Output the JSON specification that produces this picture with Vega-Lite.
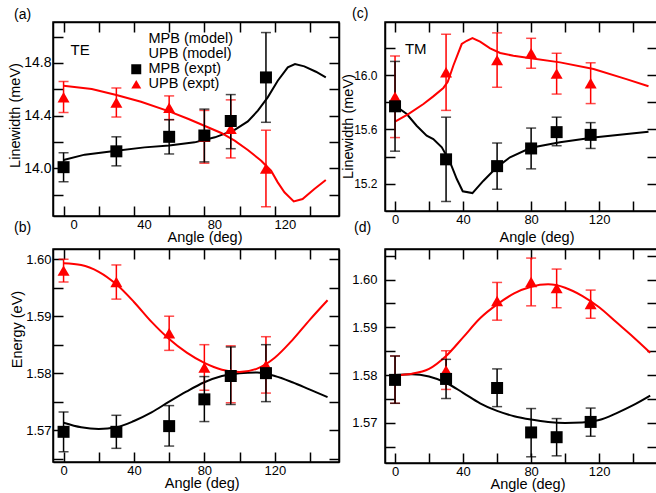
{
  "$schema": "https://vega.github.io/schema/vega-lite/v6.json",
  "padding": {"left": 6, "top": 6, "right": 0, "bottom": 0},
  "columns": 2,
  "spacing": {"row": 33, "column": 46},
  "bounds": "flush",
  "resolve": {"scale": {"x": "independent", "y": "independent", "color": "independent", "shape": "independent"}},
  "datasets": {
    "a_model": [
      {"angle": 0, "series": "MPB (model)", "value": 14.064},
      {"angle": 12, "series": "MPB (model)", "value": 14.105},
      {"angle": 30, "series": "MPB (model)", "value": 14.135},
      {"angle": 46, "series": "MPB (model)", "value": 14.16},
      {"angle": 60, "series": "MPB (model)", "value": 14.175},
      {"angle": 74.5, "series": "MPB (model)", "value": 14.198},
      {"angle": 86, "series": "MPB (model)", "value": 14.236},
      {"angle": 97, "series": "MPB (model)", "value": 14.291},
      {"angle": 104.7, "series": "MPB (model)", "value": 14.357},
      {"angle": 110.4, "series": "MPB (model)", "value": 14.438},
      {"angle": 116, "series": "MPB (model)", "value": 14.539},
      {"angle": 121.7, "series": "MPB (model)", "value": 14.665},
      {"angle": 127.4, "series": "MPB (model)", "value": 14.766},
      {"angle": 131.5, "series": "MPB (model)", "value": 14.791},
      {"angle": 136.8, "series": "MPB (model)", "value": 14.774},
      {"angle": 143.4, "series": "MPB (model)", "value": 14.733},
      {"angle": 149, "series": "MPB (model)", "value": 14.69},
      {"angle": 0, "series": "UPB (model)", "value": 14.627},
      {"angle": 16, "series": "UPB (model)", "value": 14.602},
      {"angle": 30, "series": "UPB (model)", "value": 14.557},
      {"angle": 44, "series": "UPB (model)", "value": 14.506},
      {"angle": 60, "series": "UPB (model)", "value": 14.433},
      {"angle": 71, "series": "UPB (model)", "value": 14.375},
      {"angle": 80, "series": "UPB (model)", "value": 14.324},
      {"angle": 89.6, "series": "UPB (model)", "value": 14.269},
      {"angle": 97.2, "series": "UPB (model)", "value": 14.211},
      {"angle": 104.7, "series": "UPB (model)", "value": 14.14},
      {"angle": 112.3, "series": "UPB (model)", "value": 14.059},
      {"angle": 117.9, "series": "UPB (model)", "value": 13.983},
      {"angle": 121.7, "series": "UPB (model)", "value": 13.895},
      {"angle": 125.5, "series": "UPB (model)", "value": 13.82},
      {"angle": 130.8, "series": "UPB (model)", "value": 13.751},
      {"angle": 135.8, "series": "UPB (model)", "value": 13.769},
      {"angle": 142.5, "series": "UPB (model)", "value": 13.844},
      {"angle": 149, "series": "UPB (model)", "value": 13.913}
    ],
    "a_expt": [
      {"angle": 0, "series": "UPB (expt)", "value": 14.54, "lo": 14.425, "hi": 14.66},
      {"angle": 30, "series": "UPB (expt)", "value": 14.5, "lo": 14.39, "hi": 14.61},
      {"angle": 60, "series": "UPB (expt)", "value": 14.46, "lo": 14.37, "hi": 14.55},
      {"angle": 80, "series": "UPB (expt)", "value": 14.24, "lo": 14.04, "hi": 14.44},
      {"angle": 95, "series": "UPB (expt)", "value": 14.3, "lo": 14.08, "hi": 14.52},
      {"angle": 115, "series": "UPB (expt)", "value": 14.0, "lo": 13.71, "hi": 14.29},
      {"angle": 0, "series": "MPB (expt)", "value": 14.01, "lo": 13.9, "hi": 14.12},
      {"angle": 30, "series": "MPB (expt)", "value": 14.13, "lo": 14.02, "hi": 14.24},
      {"angle": 60, "series": "MPB (expt)", "value": 14.24, "lo": 14.11, "hi": 14.37},
      {"angle": 80, "series": "MPB (expt)", "value": 14.25, "lo": 14.05, "hi": 14.45},
      {"angle": 95, "series": "MPB (expt)", "value": 14.36, "lo": 14.15, "hi": 14.56},
      {"angle": 115, "series": "MPB (expt)", "value": 14.69, "lo": 14.35, "hi": 15.03}
    ],
    "c_model": [
      {"angle": 0, "series": "MPB (model)", "value": 15.775},
      {"angle": 6.9, "series": "MPB (model)", "value": 15.713},
      {"angle": 12.7, "series": "MPB (model)", "value": 15.627},
      {"angle": 18.6, "series": "MPB (model)", "value": 15.554},
      {"angle": 22.5, "series": "MPB (model)", "value": 15.529},
      {"angle": 27.5, "series": "MPB (model)", "value": 15.468},
      {"angle": 32.4, "series": "MPB (model)", "value": 15.358},
      {"angle": 36.3, "series": "MPB (model)", "value": 15.235},
      {"angle": 39.8, "series": "MPB (model)", "value": 15.145},
      {"angle": 45.5, "series": "MPB (model)", "value": 15.132},
      {"angle": 52, "series": "MPB (model)", "value": 15.223},
      {"angle": 59.8, "series": "MPB (model)", "value": 15.321},
      {"angle": 67.6, "series": "MPB (model)", "value": 15.395},
      {"angle": 79.8, "series": "MPB (model)", "value": 15.465},
      {"angle": 97, "series": "MPB (model)", "value": 15.505},
      {"angle": 116.7, "series": "MPB (model)", "value": 15.54},
      {"angle": 136.3, "series": "MPB (model)", "value": 15.566},
      {"angle": 149, "series": "MPB (model)", "value": 15.583},
      {"angle": 0, "series": "UPB (model)", "value": 15.657},
      {"angle": 7.8, "series": "UPB (model)", "value": 15.713},
      {"angle": 16.7, "series": "UPB (model)", "value": 15.787},
      {"angle": 22.5, "series": "UPB (model)", "value": 15.843},
      {"angle": 28.4, "series": "UPB (model)", "value": 15.905},
      {"angle": 31, "series": "UPB (model)", "value": 15.95},
      {"angle": 34.3, "series": "UPB (model)", "value": 16.07},
      {"angle": 39.2, "series": "UPB (model)", "value": 16.228},
      {"angle": 42.2, "series": "UPB (model)", "value": 16.252},
      {"angle": 45.5, "series": "UPB (model)", "value": 16.272},
      {"angle": 50, "series": "UPB (model)", "value": 16.245},
      {"angle": 55.9, "series": "UPB (model)", "value": 16.196},
      {"angle": 61.8, "series": "UPB (model)", "value": 16.162},
      {"angle": 69.6, "series": "UPB (model)", "value": 16.142},
      {"angle": 79.8, "series": "UPB (model)", "value": 16.123},
      {"angle": 97, "series": "UPB (model)", "value": 16.093},
      {"angle": 116.7, "series": "UPB (model)", "value": 16.044},
      {"angle": 136, "series": "UPB (model)", "value": 15.97},
      {"angle": 149, "series": "UPB (model)", "value": 15.917}
    ],
    "c_expt": [
      {"angle": 0, "series": "UPB (expt)", "value": 15.84, "lo": 15.54, "hi": 16.14},
      {"angle": 30, "series": "UPB (expt)", "value": 16.02, "lo": 15.74, "hi": 16.3},
      {"angle": 60, "series": "UPB (expt)", "value": 16.11, "lo": 15.91, "hi": 16.31},
      {"angle": 80, "series": "UPB (expt)", "value": 16.16, "lo": 16.05, "hi": 16.27},
      {"angle": 95, "series": "UPB (expt)", "value": 16.01, "lo": 15.86, "hi": 16.16},
      {"angle": 115, "series": "UPB (expt)", "value": 15.94, "lo": 15.79, "hi": 16.09},
      {"angle": 0, "series": "MPB (expt)", "value": 15.77, "lo": 15.44, "hi": 16.1},
      {"angle": 30, "series": "MPB (expt)", "value": 15.38, "lo": 15.07, "hi": 15.69},
      {"angle": 60, "series": "MPB (expt)", "value": 15.33, "lo": 15.16, "hi": 15.5},
      {"angle": 80, "series": "MPB (expt)", "value": 15.46, "lo": 15.31, "hi": 15.61},
      {"angle": 95, "series": "MPB (expt)", "value": 15.58, "lo": 15.48, "hi": 15.69},
      {"angle": 115, "series": "MPB (expt)", "value": 15.56, "lo": 15.46, "hi": 15.65}
    ],
    "b_model": [
      {"angle": 0, "series": "MPB (model)", "value": 1.5713},
      {"angle": 10, "series": "MPB (model)", "value": 1.5705},
      {"angle": 20, "series": "MPB (model)", "value": 1.5702},
      {"angle": 30, "series": "MPB (model)", "value": 1.5705},
      {"angle": 40, "series": "MPB (model)", "value": 1.5716},
      {"angle": 50, "series": "MPB (model)", "value": 1.5731},
      {"angle": 60, "series": "MPB (model)", "value": 1.575},
      {"angle": 70, "series": "MPB (model)", "value": 1.5768},
      {"angle": 80, "series": "MPB (model)", "value": 1.5784},
      {"angle": 90, "series": "MPB (model)", "value": 1.5795},
      {"angle": 100, "series": "MPB (model)", "value": 1.58},
      {"angle": 110, "series": "MPB (model)", "value": 1.5801},
      {"angle": 120, "series": "MPB (model)", "value": 1.5795},
      {"angle": 130, "series": "MPB (model)", "value": 1.5784},
      {"angle": 140, "series": "MPB (model)", "value": 1.5771},
      {"angle": 150, "series": "MPB (model)", "value": 1.5758},
      {"angle": 0, "series": "UPB (model)", "value": 1.5993},
      {"angle": 10, "series": "UPB (model)", "value": 1.599},
      {"angle": 20, "series": "UPB (model)", "value": 1.5978},
      {"angle": 30, "series": "UPB (model)", "value": 1.5956},
      {"angle": 40, "series": "UPB (model)", "value": 1.5925},
      {"angle": 50, "series": "UPB (model)", "value": 1.589},
      {"angle": 60, "series": "UPB (model)", "value": 1.586},
      {"angle": 70, "series": "UPB (model)", "value": 1.5836},
      {"angle": 80, "series": "UPB (model)", "value": 1.5818},
      {"angle": 90, "series": "UPB (model)", "value": 1.5806},
      {"angle": 100, "series": "UPB (model)", "value": 1.5802},
      {"angle": 110, "series": "UPB (model)", "value": 1.5808},
      {"angle": 120, "series": "UPB (model)", "value": 1.5827},
      {"angle": 130, "series": "UPB (model)", "value": 1.5858},
      {"angle": 140, "series": "UPB (model)", "value": 1.5894},
      {"angle": 150, "series": "UPB (model)", "value": 1.5928}
    ],
    "b_expt": [
      {"angle": 0, "series": "UPB (expt)", "value": 1.598, "lo": 1.596, "hi": 1.6},
      {"angle": 30, "series": "UPB (expt)", "value": 1.596, "lo": 1.593, "hi": 1.599},
      {"angle": 60, "series": "UPB (expt)", "value": 1.587, "lo": 1.584, "hi": 1.59},
      {"angle": 80, "series": "UPB (expt)", "value": 1.581, "lo": 1.577, "hi": 1.585},
      {"angle": 95, "series": "UPB (expt)", "value": 1.5798, "lo": 1.5748, "hi": 1.5848},
      {"angle": 115, "series": "UPB (expt)", "value": 1.5814, "lo": 1.5765, "hi": 1.5864},
      {"angle": 0, "series": "MPB (expt)", "value": 1.5697, "lo": 1.5662, "hi": 1.5732},
      {"angle": 30, "series": "MPB (expt)", "value": 1.5697, "lo": 1.5668, "hi": 1.5726},
      {"angle": 60, "series": "MPB (expt)", "value": 1.5707, "lo": 1.5672, "hi": 1.5743},
      {"angle": 80, "series": "MPB (expt)", "value": 1.5754, "lo": 1.5715, "hi": 1.5794},
      {"angle": 95, "series": "MPB (expt)", "value": 1.5795, "lo": 1.5745, "hi": 1.5846},
      {"angle": 115, "series": "MPB (expt)", "value": 1.58, "lo": 1.575, "hi": 1.585}
    ],
    "d_model": [
      {"angle": 0, "series": "MPB (model)", "value": 1.58},
      {"angle": 10, "series": "MPB (model)", "value": 1.5802},
      {"angle": 20, "series": "MPB (model)", "value": 1.5797},
      {"angle": 30, "series": "MPB (model)", "value": 1.5784},
      {"angle": 40, "series": "MPB (model)", "value": 1.5763},
      {"angle": 50, "series": "MPB (model)", "value": 1.5741},
      {"angle": 60, "series": "MPB (model)", "value": 1.5725},
      {"angle": 70, "series": "MPB (model)", "value": 1.5714},
      {"angle": 80, "series": "MPB (model)", "value": 1.5707},
      {"angle": 90, "series": "MPB (model)", "value": 1.5702},
      {"angle": 100, "series": "MPB (model)", "value": 1.57},
      {"angle": 110, "series": "MPB (model)", "value": 1.5701},
      {"angle": 120, "series": "MPB (model)", "value": 1.5706},
      {"angle": 130, "series": "MPB (model)", "value": 1.572},
      {"angle": 140, "series": "MPB (model)", "value": 1.5737},
      {"angle": 150, "series": "MPB (model)", "value": 1.5757},
      {"angle": 0, "series": "UPB (model)", "value": 1.58},
      {"angle": 10, "series": "UPB (model)", "value": 1.5803},
      {"angle": 20, "series": "UPB (model)", "value": 1.5813},
      {"angle": 30, "series": "UPB (model)", "value": 1.584},
      {"angle": 40, "series": "UPB (model)", "value": 1.5879},
      {"angle": 50, "series": "UPB (model)", "value": 1.5919},
      {"angle": 60, "series": "UPB (model)", "value": 1.5948},
      {"angle": 70, "series": "UPB (model)", "value": 1.5971},
      {"angle": 80, "series": "UPB (model)", "value": 1.5985},
      {"angle": 90, "series": "UPB (model)", "value": 1.599},
      {"angle": 100, "series": "UPB (model)", "value": 1.5983},
      {"angle": 110, "series": "UPB (model)", "value": 1.5966},
      {"angle": 120, "series": "UPB (model)", "value": 1.5942},
      {"angle": 130, "series": "UPB (model)", "value": 1.5911},
      {"angle": 140, "series": "UPB (model)", "value": 1.588},
      {"angle": 150, "series": "UPB (model)", "value": 1.5847}
    ],
    "d_expt": [
      {"angle": 0, "series": "UPB (expt)", "value": 1.579, "lo": 1.5741, "hi": 1.584},
      {"angle": 30, "series": "UPB (expt)", "value": 1.581, "lo": 1.577, "hi": 1.5851},
      {"angle": 60, "series": "UPB (expt)", "value": 1.5955, "lo": 1.5915, "hi": 1.5994},
      {"angle": 80, "series": "UPB (expt)", "value": 1.5995, "lo": 1.5945, "hi": 1.6045},
      {"angle": 95, "series": "UPB (expt)", "value": 1.5982, "lo": 1.5941, "hi": 1.6022},
      {"angle": 115, "series": "UPB (expt)", "value": 1.5949, "lo": 1.5919, "hi": 1.5978},
      {"angle": 0, "series": "MPB (expt)", "value": 1.579, "lo": 1.5741, "hi": 1.584},
      {"angle": 30, "series": "MPB (expt)", "value": 1.5792, "lo": 1.5751, "hi": 1.5833},
      {"angle": 60, "series": "MPB (expt)", "value": 1.5773, "lo": 1.5734, "hi": 1.5813},
      {"angle": 80, "series": "MPB (expt)", "value": 1.568, "lo": 1.5629, "hi": 1.573},
      {"angle": 95, "series": "MPB (expt)", "value": 1.567, "lo": 1.5631, "hi": 1.5709},
      {"angle": 115, "series": "MPB (expt)", "value": 1.5702, "lo": 1.5672, "hi": 1.5731}
    ]
  },
  "concat": [
    {
      "width": 286, "height": 194,
      "title": {"text": "(a)", "anchor": "start", "frame": "group", "dx": -39, "offset": -1},
      "layer": [
        {
          "data": {"name": "a_model"},
          "transform": [{"filter": {"field": "series", "equal": "MPB (model)"}}],
          "mark": {"type": "line", "strokeWidth": 2, "color": "black"},
          "encoding": {
            "x": {"field": "angle", "type": "quantitative", "scale": {"domain": [-6, 156.5], "nice": false, "zero": false},
              "axis": {"orient": "bottom", "values": [0, 20, 40, 60, 80, 100, 120, 140], "tickSize": -10, "tickColor": "black", "tickWidth": 1.5, "grid": false, "domain": true, "domainColor": "black", "domainWidth": 1.5, "labelFont": "Liberation Sans", "labelFontSize": 13, "labelColor": "black", "labelFlush": false, "labelOverlap": false, "labelPadding": 12, "labelOffset": 10, "title": "Angle (deg)", "titleFont": "Liberation Sans", "titleFontSize": 14.5, "titleFontWeight": "normal", "titleColor": "black", "titleX": 151.5, "titleY": 21, "titleBaseline": "middle", "titleAlign": "center", "labelExpr": "datum.value % 40 === 0 ? datum.label : ''"}},
            "y": {"field": "value", "type": "quantitative", "scale": {"domain": [13.64, 15.11], "nice": false, "zero": false},
              "axis": {"orient": "left", "values": [13.8, 14.0, 14.2, 14.4, 14.6, 14.8, 15.0], "format": ".1f", "tickSize": -10, "tickColor": "black", "tickWidth": 1.5, "grid": false, "domain": true, "domainColor": "black", "domainWidth": 1.5, "labelFont": "Liberation Sans", "labelFontSize": 14, "labelColor": "black", "labelOverlap": false, "labelPadding": 12, "title": "Linewidth (meV)", "titleFont": "Liberation Sans", "titleFontSize": 14.5, "titleFontWeight": "normal", "titleColor": "black", "titleX": -38, "titleY": 93, "titleAngle": -90, "titleBaseline": "middle", "titleAlign": "center",
                "labelExpr": "abs(datum.value/0.4 - round(datum.value/0.4)) < 0.001 ? datum.label : ''"}}
          }
        },
        {
          "data": {"name": "a_model"},
          "transform": [{"filter": {"field": "series", "equal": "UPB (model)"}}],
          "mark": {"type": "line", "strokeWidth": 2, "color": "#ff0000"},
          "encoding": {"x": {"field": "angle", "type": "quantitative", "axis": null}, "y": {"field": "value", "type": "quantitative", "axis": null}}
        },
        {
          "data": {"name": "a_expt"},
          "transform": [{"filter": {"field": "series", "equal": "UPB (expt)"}}],
          "mark": {"type": "rule", "strokeWidth": 1.5, "color": "#ff0000"},
          "encoding": {"x": {"field": "angle", "type": "quantitative", "axis": null}, "y": {"field": "lo", "type": "quantitative", "axis": null}, "y2": {"field": "hi"}}
        },
        {
          "data": {"name": "a_expt"},
          "transform": [{"filter": {"field": "series", "equal": "UPB (expt)"}}],
          "mark": {"type": "tick", "orient": "horizontal", "size": 10, "thickness": 1.5, "color": "#ff0000"},
          "encoding": {"x": {"field": "angle", "type": "quantitative", "axis": null}, "y": {"field": "lo", "type": "quantitative", "axis": null}}
        },
        {
          "data": {"name": "a_expt"},
          "transform": [{"filter": {"field": "series", "equal": "UPB (expt)"}}],
          "mark": {"type": "tick", "orient": "horizontal", "size": 10, "thickness": 1.5, "color": "#ff0000"},
          "encoding": {"x": {"field": "angle", "type": "quantitative", "axis": null}, "y": {"field": "hi", "type": "quantitative", "axis": null}}
        },
        {
          "data": {"name": "a_expt"},
          "transform": [{"filter": {"field": "series", "equal": "MPB (expt)"}}],
          "mark": {"type": "rule", "strokeWidth": 1.5, "color": "black"},
          "encoding": {"x": {"field": "angle", "type": "quantitative", "axis": null}, "y": {"field": "lo", "type": "quantitative", "axis": null}, "y2": {"field": "hi"}}
        },
        {
          "data": {"name": "a_expt"},
          "transform": [{"filter": {"field": "series", "equal": "MPB (expt)"}}],
          "mark": {"type": "tick", "orient": "horizontal", "size": 10, "thickness": 1.5, "color": "black"},
          "encoding": {"x": {"field": "angle", "type": "quantitative", "axis": null}, "y": {"field": "lo", "type": "quantitative", "axis": null}}
        },
        {
          "data": {"name": "a_expt"},
          "transform": [{"filter": {"field": "series", "equal": "MPB (expt)"}}],
          "mark": {"type": "tick", "orient": "horizontal", "size": 10, "thickness": 1.5, "color": "black"},
          "encoding": {"x": {"field": "angle", "type": "quantitative", "axis": null}, "y": {"field": "hi", "type": "quantitative", "axis": null}}
        },
        {
          "data": {"name": "a_expt"},
          "mark": {"type": "point", "filled": true, "size": 144, "opacity": 1},
          "encoding": {
            "x": {"field": "angle", "type": "quantitative",
              "axis": {"orient": "top", "values": [0, 20, 40, 60, 80, 100, 120, 140], "tickSize": -10, "tickColor": "black", "tickWidth": 1.5, "grid": false, "labels": false, "domain": true, "domainColor": "black", "domainWidth": 1.5, "title": null}},
            "y": {"field": "value", "type": "quantitative",
              "axis": {"orient": "right", "values": [13.8, 14.0, 14.2, 14.4, 14.6, 14.8, 15.0], "tickSize": -10, "tickColor": "black", "tickWidth": 1.5, "grid": false, "labels": false, "domain": true, "domainColor": "black", "domainWidth": 1.5, "title": null}},
            "color": {"field": "series", "type": "nominal", "scale": {"domain": ["MPB (model)", "UPB (model)", "MPB (expt)", "UPB (expt)"], "range": ["black", "#ff0000", "black", "#ff0000"]},
              "legend": {"orient": "none", "legendX": 76, "legendY": 10, "title": null, "padding": 0, "rowPadding": 0, "labelOffset": 5, "labelFont": "Liberation Sans", "labelFontSize": 14.5, "labelColor": "black", "symbolStrokeWidth": 2.5}},
            "shape": {"field": "series", "type": "nominal", "scale": {"domain": ["MPB (model)", "UPB (model)", "MPB (expt)", "UPB (expt)"], "range": ["stroke", "stroke", "square", "triangle-up"]},
              "legend": {"orient": "none", "legendX": 76, "legendY": 10, "title": null, "padding": 0, "rowPadding": 0, "labelOffset": 5, "labelFont": "Liberation Sans", "labelFontSize": 14.5, "labelColor": "black", "symbolStrokeWidth": 2.5}}
          }
        },
        {
          "data": {"values": [{"label": "TE"}]},
          "mark": {"type": "text", "fontSize": 15, "align": "center", "baseline": "middle", "color": "black"},
          "encoding": {"x": {"datum": 9.4, "type": "quantitative", "axis": null}, "y": {"datum": 14.9, "type": "quantitative", "axis": null}, "text": {"field": "label"}}
        }
      ],
      "resolve": {"axis": {"x": "independent", "y": "independent"}}
    },
    {
      "width": 272, "height": 189,
      "title": {"text": "(c)", "anchor": "start", "frame": "group", "dx": -33, "offset": 0},
      "layer": [
        {
          "data": {"name": "c_model"},
          "transform": [{"filter": {"field": "series", "equal": "MPB (model)"}}],
          "mark": {"type": "line", "strokeWidth": 2, "color": "black"},
          "encoding": {
            "x": {"field": "angle", "type": "quantitative", "scale": {"domain": [-5.9, 154], "nice": false, "zero": false},
              "axis": {"orient": "bottom", "values": [0, 20, 40, 60, 80, 100, 120, 140], "tickSize": -10, "tickColor": "black", "tickWidth": 1.5, "grid": false, "domain": true, "domainColor": "black", "domainWidth": 1.5, "labelFont": "Liberation Sans", "labelFontSize": 13, "labelColor": "black", "labelFlush": false, "labelOverlap": false, "labelPadding": 12, "title": "Angle (deg)", "titleFont": "Liberation Sans", "titleFontSize": 14.5, "titleFontWeight": "normal", "titleColor": "black", "titleX": 151.5, "titleY": 26, "titleBaseline": "middle", "titleAlign": "center", "labelExpr": "datum.value % 40 === 0 ? datum.label : ''"}},
            "y": {"field": "value", "type": "quantitative", "scale": {"domain": [15.0, 16.39], "nice": false, "zero": false},
              "axis": {"orient": "left", "values": [15.2, 15.4, 15.6, 15.8, 16.0, 16.2], "format": ".1f", "tickSize": -10, "tickColor": "black", "tickWidth": 1.5, "grid": false, "domain": true, "domainColor": "black", "domainWidth": 1.5, "labelFont": "Liberation Sans", "labelFontSize": 12, "labelColor": "black", "labelOverlap": false, "labelPadding": 18, "title": "Linewidth (meV)", "titleFont": "Liberation Sans", "titleFontSize": 14.5, "titleFontWeight": "normal", "titleColor": "black", "titleX": -37, "titleY": 104, "titleAngle": -90, "titleBaseline": "middle", "titleAlign": "center",
                "labelExpr": "abs(datum.value/0.4 - round(datum.value/0.4)) < 0.001 ? datum.label : ''"}}
          }
        },
        {
          "data": {"name": "c_model"},
          "transform": [{"filter": {"field": "series", "equal": "UPB (model)"}}],
          "mark": {"type": "line", "strokeWidth": 2, "color": "#ff0000"},
          "encoding": {"x": {"field": "angle", "type": "quantitative", "axis": null}, "y": {"field": "value", "type": "quantitative", "axis": null}}
        },
        {
          "data": {"name": "c_expt"},
          "transform": [{"filter": {"field": "series", "equal": "UPB (expt)"}}],
          "mark": {"type": "rule", "strokeWidth": 1.5, "color": "#ff0000"},
          "encoding": {"x": {"field": "angle", "type": "quantitative", "axis": null}, "y": {"field": "lo", "type": "quantitative", "axis": null}, "y2": {"field": "hi"}}
        },
        {
          "data": {"name": "c_expt"},
          "transform": [{"filter": {"field": "series", "equal": "UPB (expt)"}}],
          "mark": {"type": "tick", "orient": "horizontal", "size": 10, "thickness": 1.5, "color": "#ff0000"},
          "encoding": {"x": {"field": "angle", "type": "quantitative", "axis": null}, "y": {"field": "lo", "type": "quantitative", "axis": null}}
        },
        {
          "data": {"name": "c_expt"},
          "transform": [{"filter": {"field": "series", "equal": "UPB (expt)"}}],
          "mark": {"type": "tick", "orient": "horizontal", "size": 10, "thickness": 1.5, "color": "#ff0000"},
          "encoding": {"x": {"field": "angle", "type": "quantitative", "axis": null}, "y": {"field": "hi", "type": "quantitative", "axis": null}}
        },
        {
          "data": {"name": "c_expt"},
          "transform": [{"filter": {"field": "series", "equal": "MPB (expt)"}}],
          "mark": {"type": "rule", "strokeWidth": 1.5, "color": "black"},
          "encoding": {"x": {"field": "angle", "type": "quantitative", "axis": null}, "y": {"field": "lo", "type": "quantitative", "axis": null}, "y2": {"field": "hi"}}
        },
        {
          "data": {"name": "c_expt"},
          "transform": [{"filter": {"field": "series", "equal": "MPB (expt)"}}],
          "mark": {"type": "tick", "orient": "horizontal", "size": 10, "thickness": 1.5, "color": "black"},
          "encoding": {"x": {"field": "angle", "type": "quantitative", "axis": null}, "y": {"field": "lo", "type": "quantitative", "axis": null}}
        },
        {
          "data": {"name": "c_expt"},
          "transform": [{"filter": {"field": "series", "equal": "MPB (expt)"}}],
          "mark": {"type": "tick", "orient": "horizontal", "size": 10, "thickness": 1.5, "color": "black"},
          "encoding": {"x": {"field": "angle", "type": "quantitative", "axis": null}, "y": {"field": "hi", "type": "quantitative", "axis": null}}
        },
        {
          "data": {"name": "c_expt"},
          "mark": {"type": "point", "filled": true, "size": 144, "opacity": 1},
          "encoding": {
            "x": {"field": "angle", "type": "quantitative",
              "axis": {"orient": "top", "values": [0, 20, 40, 60, 80, 100, 120, 140], "tickSize": -10, "tickColor": "black", "tickWidth": 1.5, "grid": false, "labels": false, "domain": true, "domainColor": "black", "domainWidth": 1.5, "title": null}},
            "y": {"field": "value", "type": "quantitative",
              "axis": {"orient": "right", "values": [15.2, 15.4, 15.6, 15.8, 16.0, 16.2], "tickSize": -10, "tickColor": "black", "tickWidth": 1.5, "grid": false, "labels": false, "domain": false, "title": null}},
            "color": {"field": "series", "type": "nominal", "scale": {"domain": ["MPB (model)", "UPB (model)", "MPB (expt)", "UPB (expt)"], "range": ["black", "#ff0000", "black", "#ff0000"]}, "legend": null},
            "shape": {"field": "series", "type": "nominal", "scale": {"domain": ["MPB (model)", "UPB (model)", "MPB (expt)", "UPB (expt)"], "range": ["stroke", "stroke", "square", "triangle-up"]}, "legend": null}
          }
        },
        {
          "data": {"values": [{"label": "TM"}]},
          "mark": {"type": "text", "fontSize": 15, "align": "center", "baseline": "middle", "color": "black"},
          "encoding": {"x": {"datum": 12.2, "type": "quantitative", "axis": null}, "y": {"datum": 16.19, "type": "quantitative", "axis": null}, "text": {"field": "label"}}
        }
      ],
      "resolve": {"axis": {"x": "independent", "y": "independent"}}
    },
    {
      "width": 286, "height": 213,
      "title": {"text": "(b)", "anchor": "start", "frame": "group", "dx": -39, "offset": 13},
      "layer": [
        {
          "data": {"name": "b_model"},
          "transform": [{"filter": {"field": "series", "equal": "MPB (model)"}}],
          "mark": {"type": "line", "strokeWidth": 2, "interpolate": "monotone", "color": "black"},
          "encoding": {
            "x": {"field": "angle", "type": "quantitative", "scale": {"domain": [-6, 156.5], "nice": false, "zero": false},
              "axis": {"orient": "bottom", "values": [0, 20, 40, 60, 80, 100, 120, 140], "tickSize": -10, "tickColor": "black", "tickWidth": 1.5, "grid": false, "domain": true, "domainColor": "black", "domainWidth": 1.5, "labelFont": "Liberation Sans", "labelFontSize": 13, "labelColor": "black", "labelFlush": false, "labelOverlap": false, "labelPadding": 12, "title": "Angle (deg)", "titleFont": "Liberation Sans", "titleFontSize": 14.5, "titleFontWeight": "normal", "titleColor": "black", "titleX": 148.7, "titleY": 21, "titleBaseline": "middle", "titleAlign": "center", "labelExpr": "datum.value % 40 === 0 ? datum.label : ''"}},
            "y": {"field": "value", "type": "quantitative", "scale": {"domain": [1.5644, 1.6018], "nice": false, "zero": false},
              "axis": {"orient": "left", "values": [1.565, 1.57, 1.575, 1.58, 1.585, 1.59, 1.595, 1.6], "format": ".2f", "tickSize": -10, "tickColor": "black", "tickWidth": 1.5, "grid": false, "domain": true, "domainColor": "black", "domainWidth": 1.5, "labelFont": "Liberation Sans", "labelFontSize": 13, "labelColor": "black", "labelOverlap": false, "labelPadding": 12, "title": "Energy (eV)", "titleFont": "Liberation Sans", "titleFontSize": 14.5, "titleFontWeight": "normal", "titleColor": "black", "titleX": -36, "titleY": 80, "titleAngle": -90, "titleBaseline": "middle", "titleAlign": "center",
                "labelExpr": "abs(datum.value*100 - round(datum.value*100)) < 0.001 ? datum.label : ''"}}
          }
        },
        {
          "data": {"name": "b_model"},
          "transform": [{"filter": {"field": "series", "equal": "UPB (model)"}}],
          "mark": {"type": "line", "strokeWidth": 2, "interpolate": "monotone", "color": "#ff0000"},
          "encoding": {"x": {"field": "angle", "type": "quantitative", "axis": null}, "y": {"field": "value", "type": "quantitative", "axis": null}}
        },
        {
          "data": {"name": "b_expt"},
          "transform": [{"filter": {"field": "series", "equal": "UPB (expt)"}}],
          "mark": {"type": "rule", "strokeWidth": 1.5, "color": "#ff0000"},
          "encoding": {"x": {"field": "angle", "type": "quantitative", "axis": null}, "y": {"field": "lo", "type": "quantitative", "axis": null}, "y2": {"field": "hi"}}
        },
        {
          "data": {"name": "b_expt"},
          "transform": [{"filter": {"field": "series", "equal": "UPB (expt)"}}],
          "mark": {"type": "tick", "orient": "horizontal", "size": 10, "thickness": 1.5, "color": "#ff0000"},
          "encoding": {"x": {"field": "angle", "type": "quantitative", "axis": null}, "y": {"field": "lo", "type": "quantitative", "axis": null}}
        },
        {
          "data": {"name": "b_expt"},
          "transform": [{"filter": {"field": "series", "equal": "UPB (expt)"}}],
          "mark": {"type": "tick", "orient": "horizontal", "size": 10, "thickness": 1.5, "color": "#ff0000"},
          "encoding": {"x": {"field": "angle", "type": "quantitative", "axis": null}, "y": {"field": "hi", "type": "quantitative", "axis": null}}
        },
        {
          "data": {"name": "b_expt"},
          "transform": [{"filter": {"field": "series", "equal": "MPB (expt)"}}],
          "mark": {"type": "rule", "strokeWidth": 1.5, "color": "black"},
          "encoding": {"x": {"field": "angle", "type": "quantitative", "axis": null}, "y": {"field": "lo", "type": "quantitative", "axis": null}, "y2": {"field": "hi"}}
        },
        {
          "data": {"name": "b_expt"},
          "transform": [{"filter": {"field": "series", "equal": "MPB (expt)"}}],
          "mark": {"type": "tick", "orient": "horizontal", "size": 10, "thickness": 1.5, "color": "black"},
          "encoding": {"x": {"field": "angle", "type": "quantitative", "axis": null}, "y": {"field": "lo", "type": "quantitative", "axis": null}}
        },
        {
          "data": {"name": "b_expt"},
          "transform": [{"filter": {"field": "series", "equal": "MPB (expt)"}}],
          "mark": {"type": "tick", "orient": "horizontal", "size": 10, "thickness": 1.5, "color": "black"},
          "encoding": {"x": {"field": "angle", "type": "quantitative", "axis": null}, "y": {"field": "hi", "type": "quantitative", "axis": null}}
        },
        {
          "data": {"name": "b_expt"},
          "mark": {"type": "point", "filled": true, "size": 144, "opacity": 1},
          "encoding": {
            "x": {"field": "angle", "type": "quantitative",
              "axis": {"orient": "top", "values": [0, 20, 40, 60, 80, 100, 120, 140], "tickSize": -10, "tickColor": "black", "tickWidth": 1.5, "grid": false, "labels": false, "domain": true, "domainColor": "black", "domainWidth": 1.5, "title": null}},
            "y": {"field": "value", "type": "quantitative",
              "axis": {"orient": "right", "values": [1.565, 1.57, 1.575, 1.58, 1.585, 1.59, 1.595, 1.6], "tickSize": -10, "tickColor": "black", "tickWidth": 1.5, "grid": false, "labels": false, "domain": true, "domainColor": "black", "domainWidth": 1.5, "title": null}},
            "color": {"field": "series", "type": "nominal", "scale": {"domain": ["MPB (model)", "UPB (model)", "MPB (expt)", "UPB (expt)"], "range": ["black", "#ff0000", "black", "#ff0000"]}, "legend": null},
            "shape": {"field": "series", "type": "nominal", "scale": {"domain": ["MPB (model)", "UPB (model)", "MPB (expt)", "UPB (expt)"], "range": ["stroke", "stroke", "square", "triangle-up"]}, "legend": null}
          }
        }
      ],
      "resolve": {"axis": {"x": "independent", "y": "independent"}}
    },
    {
      "width": 272, "height": 214,
      "title": {"text": "(d)", "anchor": "start", "frame": "group", "dx": -31, "offset": 13},
      "layer": [
        {
          "data": {"name": "d_model"},
          "transform": [{"filter": {"field": "series", "equal": "MPB (model)"}}],
          "mark": {"type": "line", "strokeWidth": 2, "interpolate": "monotone", "color": "black"},
          "encoding": {
            "x": {"field": "angle", "type": "quantitative", "scale": {"domain": [-5.9, 154], "nice": false, "zero": false},
              "axis": {"orient": "bottom", "values": [0, 20, 40, 60, 80, 100, 120, 140], "tickSize": -10, "tickColor": "black", "tickWidth": 1.5, "grid": false, "domain": true, "domainColor": "black", "domainWidth": 1.5, "labelFont": "Liberation Sans", "labelFontSize": 13, "labelColor": "black", "labelFlush": false, "labelOverlap": false, "labelPadding": 12, "title": "Angle (deg)", "titleFont": "Liberation Sans", "titleFontSize": 14.5, "titleFontWeight": "normal", "titleColor": "black", "titleX": 142.5, "titleY": 21, "titleBaseline": "middle", "titleAlign": "center", "labelExpr": "datum.value % 40 === 0 ? datum.label : ''"}},
            "y": {"field": "value", "type": "quantitative", "scale": {"domain": [1.5616, 1.6064], "nice": false, "zero": false},
              "axis": {"orient": "left", "values": [1.565, 1.57, 1.575, 1.58, 1.585, 1.59, 1.595, 1.6, 1.605], "format": ".2f", "tickSize": -10, "tickColor": "black", "tickWidth": 1.5, "grid": false, "domain": true, "domainColor": "black", "domainWidth": 1.5, "labelFont": "Liberation Sans", "labelFontSize": 13, "labelColor": "black", "labelOverlap": false, "labelPadding": 18, "title": null,
                "labelExpr": "abs(datum.value*100 - round(datum.value*100)) < 0.001 ? datum.label : ''"}}
          }
        },
        {
          "data": {"name": "d_model"},
          "transform": [{"filter": {"field": "series", "equal": "UPB (model)"}}],
          "mark": {"type": "line", "strokeWidth": 2, "interpolate": "monotone", "color": "#ff0000"},
          "encoding": {"x": {"field": "angle", "type": "quantitative", "axis": null}, "y": {"field": "value", "type": "quantitative", "axis": null}}
        },
        {
          "data": {"name": "d_expt"},
          "transform": [{"filter": {"field": "series", "equal": "UPB (expt)"}}],
          "mark": {"type": "rule", "strokeWidth": 1.5, "color": "#ff0000"},
          "encoding": {"x": {"field": "angle", "type": "quantitative", "axis": null}, "y": {"field": "lo", "type": "quantitative", "axis": null}, "y2": {"field": "hi"}}
        },
        {
          "data": {"name": "d_expt"},
          "transform": [{"filter": {"field": "series", "equal": "UPB (expt)"}}],
          "mark": {"type": "tick", "orient": "horizontal", "size": 10, "thickness": 1.5, "color": "#ff0000"},
          "encoding": {"x": {"field": "angle", "type": "quantitative", "axis": null}, "y": {"field": "lo", "type": "quantitative", "axis": null}}
        },
        {
          "data": {"name": "d_expt"},
          "transform": [{"filter": {"field": "series", "equal": "UPB (expt)"}}],
          "mark": {"type": "tick", "orient": "horizontal", "size": 10, "thickness": 1.5, "color": "#ff0000"},
          "encoding": {"x": {"field": "angle", "type": "quantitative", "axis": null}, "y": {"field": "hi", "type": "quantitative", "axis": null}}
        },
        {
          "data": {"name": "d_expt"},
          "transform": [{"filter": {"field": "series", "equal": "MPB (expt)"}}],
          "mark": {"type": "rule", "strokeWidth": 1.5, "color": "black"},
          "encoding": {"x": {"field": "angle", "type": "quantitative", "axis": null}, "y": {"field": "lo", "type": "quantitative", "axis": null}, "y2": {"field": "hi"}}
        },
        {
          "data": {"name": "d_expt"},
          "transform": [{"filter": {"field": "series", "equal": "MPB (expt)"}}],
          "mark": {"type": "tick", "orient": "horizontal", "size": 10, "thickness": 1.5, "color": "black"},
          "encoding": {"x": {"field": "angle", "type": "quantitative", "axis": null}, "y": {"field": "lo", "type": "quantitative", "axis": null}}
        },
        {
          "data": {"name": "d_expt"},
          "transform": [{"filter": {"field": "series", "equal": "MPB (expt)"}}],
          "mark": {"type": "tick", "orient": "horizontal", "size": 10, "thickness": 1.5, "color": "black"},
          "encoding": {"x": {"field": "angle", "type": "quantitative", "axis": null}, "y": {"field": "hi", "type": "quantitative", "axis": null}}
        },
        {
          "data": {"name": "d_expt"},
          "mark": {"type": "point", "filled": true, "size": 144, "opacity": 1},
          "encoding": {
            "x": {"field": "angle", "type": "quantitative",
              "axis": {"orient": "top", "values": [0, 20, 40, 60, 80, 100, 120, 140], "tickSize": -10, "tickColor": "black", "tickWidth": 1.5, "grid": false, "labels": false, "domain": true, "domainColor": "black", "domainWidth": 1.5, "title": null}},
            "y": {"field": "value", "type": "quantitative",
              "axis": {"orient": "right", "values": [1.565, 1.57, 1.575, 1.58, 1.585, 1.59, 1.595, 1.6, 1.605], "tickSize": -10, "tickColor": "black", "tickWidth": 1.5, "grid": false, "labels": false, "domain": false, "title": null}},
            "color": {"field": "series", "type": "nominal", "scale": {"domain": ["MPB (model)", "UPB (model)", "MPB (expt)", "UPB (expt)"], "range": ["black", "#ff0000", "black", "#ff0000"]}, "legend": null},
            "shape": {"field": "series", "type": "nominal", "scale": {"domain": ["MPB (model)", "UPB (model)", "MPB (expt)", "UPB (expt)"], "range": ["stroke", "stroke", "square", "triangle-up"]}, "legend": null}
          }
        }
      ],
      "resolve": {"axis": {"x": "independent", "y": "independent"}}
    }
  ],
  "config": {
    "font": "Liberation Sans",
    "view": {"stroke": "black", "strokeWidth": 1.5},
    "title": {"font": "Liberation Sans", "fontSize": 14, "fontWeight": "normal", "color": "black"}
  }
}
